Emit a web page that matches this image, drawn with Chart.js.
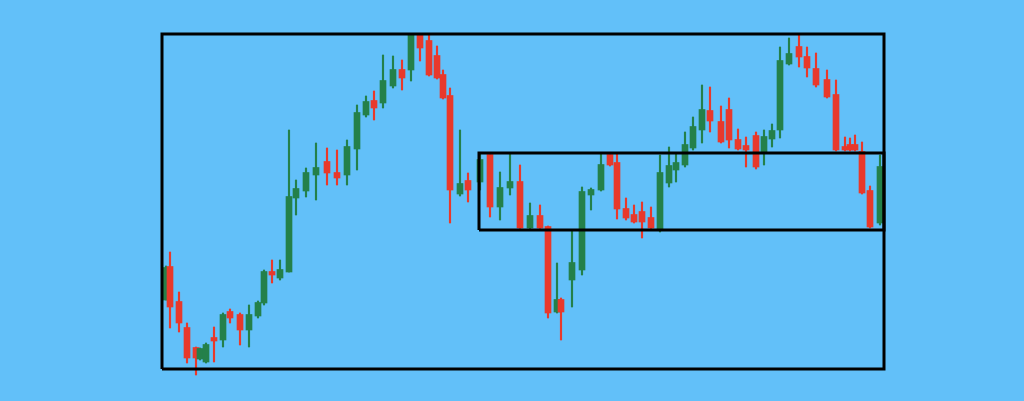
<!DOCTYPE html>
<html>
<head>
<meta charset="utf-8">
<script src="https://cdn.jsdelivr.net/npm/chart.js@4/dist/chart.umd.min.js"></script>
<style>
  html, body { margin: 0; padding: 0; background: #62c0f9; }
  #wrap { width: 1024px; height: 401px; position: relative; }
</style>
</head>
<body>
<div id="wrap"><canvas id="chart"></canvas></div>
<script>
// Session time (minutes) of each candle
const times = [4, 8, 17, 25, 34, 38, 44, 52, 61, 68, 78, 87, 96, 102, 110, 118, 127, 134, 144, 154,
  165, 175, 185, 195, 204, 212, 221, 231, 240, 249, 258, 267, 275, 281, 288, 298, 306, 318, 328, 338,
  348, 358, 368, 378, 386, 395, 399, 410, 420, 429, 439, 448, 455, 464, 472, 480, 489, 498, 507, 514,
  523, 531, 540, 548, 559, 567, 576, 584, 594, 602, 610, 618, 627, 637, 645, 654, 665, 674, 683, 688,
  693, 700, 708, 718];

const opens = [106.9, 110.2, 106.7, 104.1, 102.1, 101.0, 100.7, 103.1, 102.9, 105.7,
  105.4, 103.9, 105.3, 106.6, 109.7, 109.1, 109.7, 117.1, 117.8, 119.4,
  120.7, 119.6, 119.4, 122.0, 125.4, 126.8, 126.6, 128.3, 129.9, 129.9,
  133.4, 132.8, 131.3, 129.4, 127.3, 117.5, 118.8, 118.7, 121.4, 116.2,
  118.1, 118.7, 114.1, 115.3, 114.2, 105.7, 106.9, 108.9, 109.9, 117.4,
  117.9, 121.4, 120.6, 116.0, 115.4, 115.7, 115.1, 113.9, 118.6, 119.9,
  120.4, 122.1, 123.9, 125.8, 124.7, 125.9, 122.9, 122.3, 123.3, 121.7,
  123.0, 123.9, 130.5, 132.2, 131.2, 130.0, 128.9, 127.4, 122.2, 122.4,
  122.4, 121.7, 117.8, 114.6];

const highs = [110.3, 111.7, 107.7, 104.6, 102.2, 102.1, 102.6, 104.2, 105.6, 106.0,
  105.6, 106.4, 106.8, 109.9, 110.9, 110.9, 123.9, 118.9, 120.1, 122.6,
  122.1, 121.9, 122.9, 126.4, 127.3, 127.8, 131.4, 131.3, 130.9, 133.5,
  133.5, 133.5, 132.3, 129.9, 128.1, 123.9, 119.6, 121.6, 121.6, 119.7,
  121.6, 120.4, 116.6, 116.4, 114.3, 110.6, 107.1, 113.9, 118.2, 118.1,
  121.5, 121.6, 121.5, 117.1, 116.4, 116.7, 116.2, 121.4, 122.2, 121.6,
  123.7, 125.2, 128.4, 128.2, 126.3, 127.1, 124.0, 123.2, 123.7, 123.9,
  124.5, 132.2, 133.1, 133.4, 132.2, 131.6, 129.9, 128.9, 123.2, 123.1,
  123.4, 122.7, 118.3, 121.4];

const lows = [106.9, 104.1, 103.7, 100.6, 99.4, 100.9, 100.6, 100.7, 102.2, 104.6,
  102.4, 102.2, 105.1, 106.4, 108.6, 108.9, 109.7, 115.4, 117.2, 116.9,
  118.4, 118.4, 118.4, 119.9, 125.2, 124.9, 126.1, 128.1, 127.9, 128.8,
  130.8, 129.3, 129.0, 127.0, 114.6, 117.3, 116.7, 117.9, 115.2, 114.9,
  117.4, 114.0, 114.0, 114.0, 105.1, 105.6, 102.9, 106.2, 109.4, 115.9,
  117.8, 120.3, 115.0, 114.9, 114.6, 113.1, 114.0, 113.7, 118.2, 118.7,
  120.2, 121.9, 122.6, 123.7, 122.6, 122.1, 121.9, 120.2, 120.0, 120.4,
  122.2, 123.1, 130.4, 130.2, 129.2, 128.2, 127.1, 121.8, 121.8, 121.8,
  121.8, 117.5, 114.1, 114.4];

const closes = [110.1, 106.2, 104.6, 101.1, 101.1, 102.0, 102.4, 102.8, 105.4, 105.1,
  103.9, 105.4, 106.6, 109.7, 109.4, 109.9, 117.2, 118.0, 119.6, 120.1,
  119.6, 119.1, 122.2, 125.6, 126.7, 126.1, 128.8, 129.9, 129.1, 133.4,
  132.1, 129.4, 129.1, 127.1, 117.9, 118.5, 117.9, 120.9, 116.2, 118.1,
  118.7, 114.1, 115.3, 114.1, 105.6, 106.9, 105.7, 110.6, 117.7, 117.9,
  120.4, 120.4, 116.0, 115.1, 114.7, 114.7, 114.1, 119.6, 120.3, 120.6,
  122.4, 124.2, 125.9, 124.8, 122.7, 122.9, 122.0, 121.9, 120.2, 123.2,
  123.8, 130.8, 131.5, 131.2, 130.1, 128.4, 127.2, 121.9, 121.9, 121.9,
  121.9, 117.6, 114.2, 120.2];

// Highlighted range box: time span and price span
const boxTimes = [317, 722];
const boxPrices = [113.9, 121.6];

// Full frame of the chart
const frameTimes = [0, 722];
const framePrices = [100, 133.5];

const UP = '#24804a';
const DOWN = '#e8392b';

const colors = opens.map((o, i) => closes[i] >= o ? UP : DOWN);
const wicks = times.map((t, i) => ({ x: t, y: [lows[i], highs[i]] }));
const bodies = times.map((t, i) => ({
  x: t,
  y: [Math.min(opens[i], closes[i]), Math.max(opens[i], closes[i]) + 0.05]
}));

function rect(xs, ys) {
  return [
    { x: xs[0], y: ys[0] }, { x: xs[1], y: ys[0] },
    { x: xs[1], y: ys[1] }, { x: xs[0], y: ys[1] },
    { x: xs[0], y: ys[0] }
  ];
}

new Chart(document.getElementById('chart'), {
  type: 'bar',
  data: {
    datasets: [
      {
        type: 'line',
        data: rect(frameTimes, framePrices),
        borderColor: '#000',
        borderWidth: 3,
        pointRadius: 0,
        fill: false,
        clip: false,
        order: 0
      },
      {
        type: 'line',
        data: rect(boxTimes, boxPrices),
        borderColor: '#000',
        borderWidth: 3,
        pointRadius: 0,
        fill: false,
        clip: false,
        order: 0
      },
      {
        data: bodies,
        backgroundColor: colors,
        barThickness: 6,
        grouped: false,
        clip: false,
        order: 1
      },
      {
        data: wicks,
        backgroundColor: colors,
        barThickness: 1.5,
        grouped: false,
        clip: false,
        order: 2
      }
    ]
  },
  options: {
    responsive: true,
    maintainAspectRatio: false,
    animation: false,
    layout: { padding: { left: 162, right: 140, top: 34, bottom: 32 } },
    plugins: { legend: { display: false }, tooltip: { enabled: false } },
    scales: {
      x: { type: 'linear', offset: false, min: frameTimes[0], max: frameTimes[1], display: false },
      y: { type: 'linear', min: framePrices[0], max: framePrices[1], display: false }
    }
  }
});
</script>
</body>
</html>
